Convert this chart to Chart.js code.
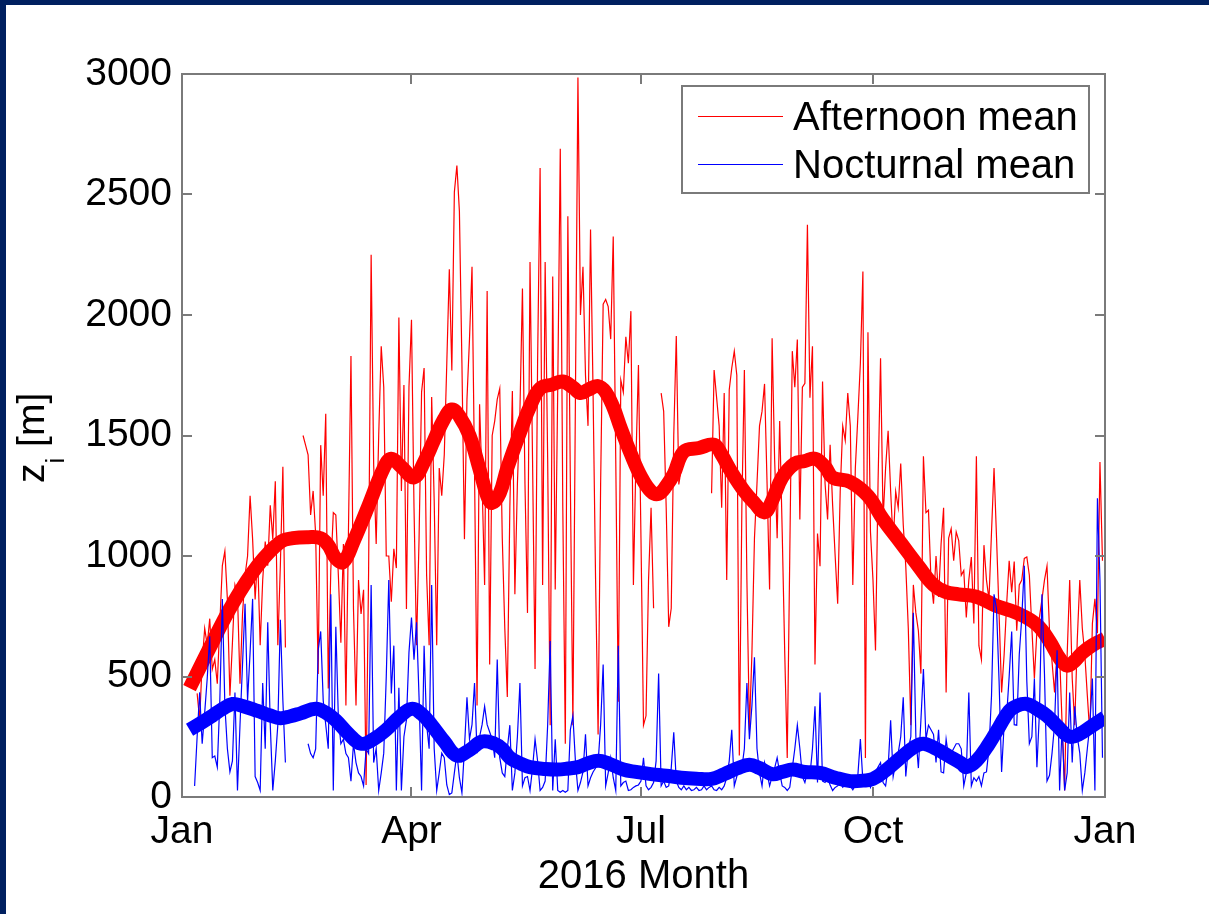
<!DOCTYPE html>
<html>
<head>
<meta charset="utf-8">
<script src="https://cdn.jsdelivr.net/npm/chart.js@4.4.1/dist/chart.umd.min.js"></script>
<style>
  html, body { margin: 0; padding: 0; background: #fff; }
  canvas { display: block; }
</style>
</head>
<body>
<canvas id="zi" width="1209" height="914"></canvas>
<script>
// Daily afternoon / nocturnal mixing height in 2016 (index = day of year, 0 = Jan 1), null = no data
const afternoonDaily = [
    null, null, null, null, null, null, 430, 320, 560, 700,
    630, 740, 530, 570, 470, 720, 960, 1020, 820, 420,
    640, 880, 840, 470, 760, 920, 1000, 1250, 1070, 820,
    1000, 630, 900, 1060, 960, 1210, 1070, 1310, 630, 960,
    1370, 620, null, null, null, null, null, null, 1500, 1460,
    1420, 1170, 1270, 1090, 510, 1460, 1250, 1590, 450, 940,
    1180, 1170, 920, 640, 1050, 380, 1100, 1830, 780, 380,
    900, 760, 860, 50, 940, 2250, 1380, 1050, 1500, 1870,
    1700, 1000, 1000, 810, 1030, 950, 1990, 1270, 1710, 780,
    1700, 1980, 1200, 630, 1070, 1680, 1780, 920, 630, 1660,
    1230, 630, 1365, 1250, 1420, 1800, 2190, 1770, 2510, 2620,
    2430, 1800, 1070, 1650, 1900, 2200, 1350, 380, 1630, 1300,
    880, 2100, 550, 1500, 1560, 1650, 1695, 1074, 700, 415,
    1200, 1685, 841, 1300, 1600, 2110, 1300, 764, 2220, 1400,
    531, 1800, 2610, 880, 2220, 1400, 298, 2160, 861, 1700,
    2690, 1200, 221, 2410, 1300, 298, 1650, 2985, 2000, 2200,
    1750, 1540, 2355, 1680, 900, 259, 1300, 2045, 2064, 2035,
    1900, 2326, 1400, 395, 1730, 1680, 1910, 1800, 2016, 880,
    1400, 1792, 1074, 298, 337, 900, 1200, 783, null, null,
    1676, 1600, 1200, 706, 783, 1500, 1913, 1297, 1365, null,
    null, null, null, null, null, null, null, null, null, null,
    1260, 1772, 1656, 1540, 1200, 1676, 900, 1690, 1780, 1850,
    1750, 172, 1200, 1772, 900, 279, 600, 1074, 1300, 1540,
    1600, 1714, 1300, 861, 1903, 1400, 1074, 1560, 1100, 600,
    162, 1000, 1850, 1700, 1898, 1152, 1700, 1717, 2374, 1657,
    1870, 550, 1093, 958, 1724, 1300, 1152, 1462, 1210, 1000,
    802, 1268, 1540, 1480, 1676, 1540, 880, 1365, 1578, 1800,
    2180, 162, 1928, 1100, 900, 608, 1300, 1821, 1152, 1365,
    1520, 1270, 1055, 1268, 1200, 1384, 1130, 958, 700, 298,
    880, 764, 690, 512, 1414, 1180, 1190, 900, 802, 1000,
    830, 1050, 1200, 434, 1074, 1113, 980, 1100, 1064, 920,
    940, 745, 900, 996, 720, 1414, 628, 570, 1045, 900,
    820, 1100, 1365, 1074, 760, 434, 590, 800, 980, 850,
    977, 690, 880, 900, 990, 996, 920, 700, 492, 690,
    745, 820, 900, 958, 690, 560, 434, 600, 590, 300,
    27, 590, 900, 492, 298, 650, 900, 700, 590, 420,
    259, 720, 822, 680, 1390, 980
];

const nocturnalDaily = [
    null, null, null, null, null, 46, 250, 434, 221, 350,
    492, 667, 163, 170, 124, 400, 822, 380, 200, 104,
    150, 434, 27, 300, 550, 802, 400, 600, 822, 85,
    60, 27, 473, 200, 725, 300, 27, 150, 300, 735,
    400, 143, null, null, null, null, null, null, null, null,
    221, 180, 163, 200, 609, 687, 400, 300, 200, 841,
    27, 706, 330, 221, 240, 180, 163, 66, 221, 143,
    100, 85, 46, 200, 180, 880, 143, 201, 27, 100,
    182, 500, 900, 430, 628, 27, 453, 27, 250, 320,
    600, 745, 570, 725, 414, 27, 628, 300, 200, 880,
    201, 27, 100, 182, 163, 50, 10, 17, 100, 182,
    80, 17, 200, 414, 240, 300, 473, 182, 250, 300,
    376, 300, 270, 240, 163, 570, 163, 100, 85, 200,
    298, 27, 100, 250, 473, 46, 80, 85, 27, 120,
    240, 150, 27, 40, 66, 300, 647, 27, 240, 27,
    20, 27, 20, 27, 279, 337, 150, 27, 60, 104,
    260, 46, 80, 104, 120, 143, 300, 550, 46, 100,
    163, 80, 27, 628, 46, 60, 66, 27, 30, 40,
    46, 50, 66, 163, 46, 30, 40, 60, 150, 512,
    46, 66, 40, 46, 120, 269, 66, 40, 30, 46,
    30, 40, 27, 30, 40, 27, 30, 46, 30, 40,
    46, 30, 27, 40, 30, 46, 80, 150, 279, 46,
    85, 143, 120, 201, 473, 240, 380, 580, 201, 100,
    46, 143, 100, 46, 85, 120, 163, 100, 46, 40,
    27, 40, 120, 200, 298, 201, 85, 60, 104, 90,
    200, 376, 60, 434, 66, 60, 80, 50, 27, 40,
    46, 60, 40, 50, 66, 46, 30, 50, 90, 240,
    66, 85, 60, 40, 100, 104, 124, 143, 60, 46,
    120, 318, 85, 143, 182, 250, 414, 85, 200, 250,
    764, 250, 120, 318, 531, 240, 298, 279, 260, 143,
    279, 104, 100, 240, 163, 182, 201, 221, 221, 200,
    46, 100, 434, 46, 80, 66, 85, 46, 100, 104,
    200, 420, 841, 780, 480, 104, 300, 337, 500, 687,
    300, 298, 590, 745, 960, 480, 221, 250, 492, 124,
    350, 841, 510, 66, 90, 182, 300, 609, 27, 298,
    27, 100, 434, 143, 376, 250, 182, 27, 100, 201,
    300, 492, 27, 1240, 900, 163
];

// Smoothed (running mean) curves, sampled at the listed days
const afternoonSmoothDays = [
    3, 12, 20, 30, 39, 44, 50, 55, 58, 61, 64, 68, 74, 80, 83, 87, 92, 96, 100, 104,
    107, 110, 114, 118, 121, 123, 126, 129, 135, 138, 142, 147, 151, 155, 158, 161, 165, 168, 171, 174,
    178, 182, 186, 189, 192, 195, 199, 205, 211, 214, 218, 223, 227, 231, 234, 238, 243, 247, 251, 255,
    258, 265, 272, 278, 285, 292, 298, 303, 308, 315, 323, 331, 339, 344, 348, 351, 354, 357, 361, 366
];
const afternoonSmooth = [
    452, 640, 800, 960, 1058, 1074, 1078, 1074, 1045, 990, 975, 1060, 1210, 1365, 1404, 1370, 1326, 1390, 1482, 1570,
    1608, 1580, 1500, 1360, 1250, 1220, 1260, 1365, 1540, 1620, 1695, 1712, 1724, 1700, 1676, 1690, 1705, 1680, 1618, 1530,
    1423, 1330, 1268, 1258, 1290, 1340, 1433, 1448, 1462, 1420, 1346, 1268, 1220, 1181, 1230, 1326, 1384, 1394, 1404, 1370,
    1326, 1307, 1249, 1152, 1055, 958, 880, 850, 841, 831, 793, 764, 715, 647, 575, 545, 565, 599, 630, 657
];

const nocturnalSmoothDays = [
    3, 8, 12, 16, 20, 24, 30, 35, 39, 43, 47, 53, 57, 61, 66, 71, 76, 81, 86, 91,
    95, 99, 104, 109, 114, 119, 124, 127, 130, 134, 138, 144, 149, 153, 157, 161, 165, 169, 175, 180,
    186, 192, 198, 204, 210, 215, 220, 225, 229, 234, 238, 242, 247, 253, 259, 265, 270, 274, 279, 285,
    290, 294, 299, 304, 309, 311, 315, 320, 324, 328, 331, 335, 339, 343, 347, 352, 356, 360, 366
];
const nocturnalSmooth = [
    279, 310, 337, 365, 386, 378, 357, 338, 327, 335, 347, 366, 350, 318, 262, 221, 240, 279, 330, 366,
    345, 298, 230, 172, 195, 230, 221, 200, 163, 140, 124, 116, 114, 118, 124, 140, 150, 140, 114, 104,
    95, 88, 80, 76, 75, 95, 118, 134, 120, 95, 104, 114, 104, 100, 80, 66, 68, 75, 110, 163,
    205, 221, 200, 170, 140, 124, 150, 221, 290, 357, 378, 386, 365, 337, 295, 250, 262, 289, 330
];

// Axis ticks
const monthTickDays = [0, 91, 182, 274, 366];
const monthTickLabels = ["Jan", "Apr", "Jul", "Oct", "Jan"];
const heightTicks = [0, 500, 1000, 1500, 2000, 2500, 3000];

const FONT = "'Liberation Sans', Arial, sans-serif";
const AXIS_GREY = "#7a7a7a";

const toPoints = (days, values) => values.map((v, i) => ({ x: days ? days[i] : i, y: v }));

// Slide background: white with the dark blue frame on the top and left
const frame = {
    id: "frame",
    beforeDraw: chart => {
        const ctx = chart.ctx;
        ctx.save();
        ctx.fillStyle = "#ffffff";
        ctx.fillRect(0, 0, chart.width, chart.height);
        ctx.fillStyle = "#002060";
        ctx.fillRect(0, 0, chart.width, 5);
        ctx.fillRect(0, 0, 6, chart.height);
        ctx.restore();
    }
};

// Box around the axes, inward tick marks on all sides, titles and legend
const axesBox = {
    id: "axesBox",
    afterDraw: chart => {
        const ctx = chart.ctx;
        const { left, right, top, bottom } = chart.chartArea;
        const xs = chart.scales.x;
        const ys = chart.scales.y;
        const tick = 10;

        ctx.save();
        ctx.strokeStyle = AXIS_GREY;
        ctx.lineWidth = 2;
        ctx.strokeRect(left, top, right - left, bottom - top);

        ctx.beginPath();
        heightTicks.forEach(v => {
            const y = Math.round(ys.getPixelForValue(v));
            ctx.moveTo(left, y);
            ctx.lineTo(left + tick, y);
            ctx.moveTo(right, y);
            ctx.lineTo(right - tick, y);
        });
        monthTickDays.forEach(d => {
            const x = Math.round(xs.getPixelForValue(d));
            ctx.moveTo(x, bottom);
            ctx.lineTo(x, bottom - tick);
            ctx.moveTo(x, top);
            ctx.lineTo(x, top + tick);
        });
        ctx.stroke();

        ctx.fillStyle = "#000";

        // x title
        ctx.font = `40px ${FONT}`;
        ctx.textAlign = "center";
        ctx.textBaseline = "alphabetic";
        ctx.fillText("2016 Month", (left + right) / 2, 888);

        // y title z_i [m], rotated
        ctx.save();
        ctx.translate(44, 483);
        ctx.rotate(-Math.PI / 2);
        ctx.textAlign = "left";
        ctx.font = `39px ${FONT}`;
        ctx.fillText("z", 0, 0);
        const zw = ctx.measureText("z").width;
        ctx.font = `26px ${FONT}`;
        ctx.fillText("i", zw, 20);
        const iw = ctx.measureText("i").width;
        ctx.font = `39px ${FONT}`;
        ctx.fillText(" [m]", zw + iw, 0);
        ctx.restore();

        // legend
        const lx = 682, ly = 86, lw = 407, lh = 107;
        ctx.fillStyle = "#fff";
        ctx.fillRect(lx, ly, lw, lh);
        ctx.strokeStyle = AXIS_GREY;
        ctx.lineWidth = 2;
        ctx.strokeRect(lx, ly, lw, lh);

        const rows = [
            { label: "Afternoon mean", color: "#ff0000", y: 116 },
            { label: "Nocturnal mean", color: "#0000ff", y: 164 }
        ];
        ctx.font = `40px ${FONT}`;
        ctx.textAlign = "left";
        rows.forEach(r => {
            ctx.strokeStyle = r.color;
            ctx.lineWidth = 1;
            ctx.beginPath();
            ctx.moveTo(698, r.y + 0.5);
            ctx.lineTo(783, r.y + 0.5);
            ctx.stroke();
            ctx.fillStyle = "#000";
            ctx.fillText(r.label, 793, r.y + 14);
        });
        ctx.restore();
    }
};

new Chart(document.getElementById("zi"), {
    type: "line",
    data: {
        datasets: [
            {
                label: "Afternoon mean",
                data: toPoints(null, afternoonDaily),
                borderColor: "#ff0000",
                borderWidth: 1.2,
                pointRadius: 0,
                tension: 0,
                spanGaps: false,
                order: 4
            },
            {
                label: "Afternoon smoothed",
                data: toPoints(afternoonSmoothDays, afternoonSmooth),
                borderColor: "#ff0000",
                borderWidth: 14,
                pointRadius: 0,
                tension: 0.4,
                order: 3
            },
            {
                label: "Nocturnal mean",
                data: toPoints(null, nocturnalDaily),
                borderColor: "#0000ff",
                borderWidth: 1.2,
                pointRadius: 0,
                tension: 0,
                spanGaps: false,
                order: 2
            },
            {
                label: "Nocturnal smoothed",
                data: toPoints(nocturnalSmoothDays, nocturnalSmooth),
                borderColor: "#0000ff",
                borderWidth: 14,
                pointRadius: 0,
                tension: 0.4,
                order: 1
            }
        ]
    },
    options: {
        responsive: false,
        animation: false,
        devicePixelRatio: 1,
        layout: {
            padding: { left: 0, top: 74, right: 104, bottom: 0 }
        },
        plugins: {
            legend: { display: false },
            tooltip: { enabled: false }
        },
        scales: {
            x: {
                type: "linear",
                min: 0,
                max: 366,
                grid: { display: false, drawTicks: false },
                border: { display: false },
                afterBuildTicks: scale => {
                    scale.ticks = monthTickDays.map(v => ({ value: v }));
                },
                afterFit: scale => {
                    scale.height = 117;
                },
                ticks: {
                    autoSkip: false,
                    maxRotation: 0,
                    padding: 12,
                    color: "#000",
                    font: { family: FONT, size: 39 },
                    callback: value => monthTickLabels[monthTickDays.indexOf(value)]
                }
            },
            y: {
                min: 0,
                max: 3000,
                grid: { display: false, drawTicks: false },
                border: { display: false },
                afterBuildTicks: scale => {
                    scale.ticks = heightTicks.map(v => ({ value: v }));
                },
                afterFit: scale => {
                    scale.width = 182;
                },
                ticks: {
                    padding: 10,
                    color: "#000",
                    font: { family: FONT, size: 39 },
                    callback: value => String(value)
                }
            }
        }
    },
    plugins: [frame, axesBox]
});
</script>
</body>
</html>
